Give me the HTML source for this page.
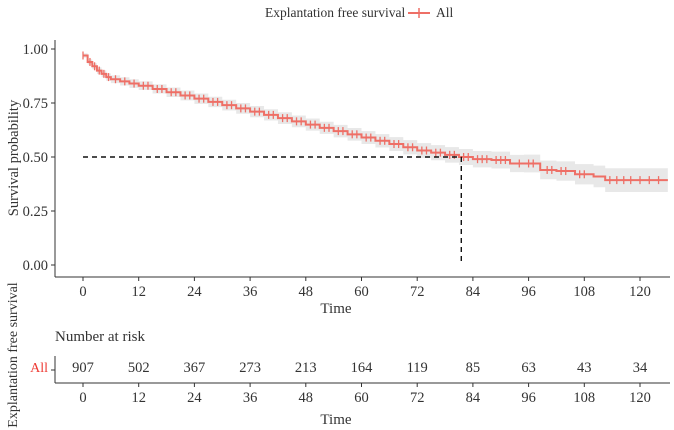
<!DOCTYPE html>
<html><head><meta charset="utf-8">
<style>
html,body{margin:0;padding:0;background:#fff;}
svg{display:block;font-family:"Liberation Serif",serif;}
</style></head>
<body>
<svg id="chart" width="674" height="430" viewBox="0 0 674 430" xmlns="http://www.w3.org/2000/svg">
  <g id="legend">
    <text x="265" y="17" font-size="13.5" fill="#333">Explantation free survival</text>
    <line x1="408" y1="13" x2="430" y2="13" stroke="#ee6f66" stroke-width="2"/>
    <line x1="419" y1="8" x2="419" y2="18" stroke="#ee6f66" stroke-width="1.5"/>
    <text x="436" y="17" font-size="13.5" fill="#333">All</text>
  </g>
  <g id="plot"></g>
  <text transform="translate(18,158) rotate(-90)" text-anchor="middle" font-size="14.5" fill="#333">Survival probability</text>
  <text x="336" y="313" text-anchor="middle" font-size="15" fill="#333">Time</text>
  <text x="55" y="341" font-size="15" fill="#333">Number at risk</text>
  <text x="48" y="372" text-anchor="end" font-size="14" fill="#ee3a33">All</text>
  <text transform="translate(17,355) rotate(-90)" text-anchor="middle" font-size="14" fill="#333">Explantation free survival</text>
  <text x="336" y="424" text-anchor="middle" font-size="15" fill="#333">Time</text>
</svg>
<script>
const times = [0,1,2,3,4,5,6,8,10,12,15,18,21,24,27,30,33,36,39,42,45,48,51,54,57,60,63,66,69,72,75,78,81,84,88,92,95,98.5,102,106,110,112.5,126];
const surv  = [0.97,0.94,0.92,0.90,0.885,0.87,0.86,0.85,0.84,0.83,0.815,0.80,0.785,0.77,0.755,0.74,0.725,0.71,0.695,0.68,0.665,0.65,0.635,0.62,0.605,0.59,0.575,0.56,0.545,0.53,0.52,0.51,0.50,0.49,0.486,0.47,0.47,0.44,0.435,0.42,0.41,0.393,0.393];
const ciHalf= [0.01,0.012,0.014,0.015,0.016,0.017,0.018,0.019,0.02,0.02,0.021,0.022,0.023,0.024,0.024,0.025,0.025,0.026,0.026,0.027,0.027,0.028,0.028,0.029,0.029,0.03,0.031,0.032,0.033,0.034,0.035,0.036,0.037,0.038,0.039,0.04,0.041,0.043,0.045,0.047,0.05,0.055,0.055];
const censorTimes = [0,1.5,2.5,3.5,4.5,5.5,7,9,11,13,14,16,17,19,20,22,23,25,26,28,29,31,32,34,35,37,38,40,41,43,44,46,47,49,50,52,53,55,56,58,59,61,62,64,65,67,68,70,71,73,74,76,77,79,80,82,83,85,86,87,89,90,91,94,96,97,100,101,103,104,107,108,113.5,115,116.5,118,120,122,124];
const xTicks = [0,12,24,36,48,60,72,84,96,108,120];
const yTicks = [0,0.25,0.5,0.75,1.0];
const yTickLabels = ["0.00","0.25","0.50","0.75","1.00"];
const riskCounts = [907,502,367,273,213,164,119,85,63,43,34];
const medianTime = 81.5;

const X = t => 83 + t*(557/120);
const Y = v => 265 - v*216;
const YR = 383;
const NS = "http://www.w3.org/2000/svg";
const g = document.getElementById('plot');
function mk(tag, attrs, parent){const e=document.createElementNS(NS,tag);for(const k in attrs)e.setAttribute(k,attrs[k]);(parent||g).appendChild(e);return e;}
function sAt(t){let v=surv[0];for(let i=0;i<times.length;i++){if(times[i]<=t)v=surv[i];}return v;}

let up=[],lo=[];
for(let i=0;i<times.length-1;i++){
  up.push([X(times[i]),Y(Math.min(1,surv[i]+ciHalf[i]))],[X(times[i+1]),Y(Math.min(1,surv[i]+ciHalf[i]))]);
  lo.push([X(times[i]),Y(surv[i]-ciHalf[i])],[X(times[i+1]),Y(surv[i]-ciHalf[i])]);
}
const band = mk('polygon',{points:up.concat(lo.reverse()).map(p=>p.join(',')).join(' '),fill:'#e8e8e8'});



let d='M'+X(times[0])+','+Y(surv[0]);
for(let i=1;i<times.length;i++){d+=' H'+X(times[i])+' V'+Y(surv[i]);}
const line = mk('path',{d:d,fill:'none',stroke:'#ee6f66','stroke-width':2});



censorTimes.forEach(t=>{
  const m = mk('line',{x1:X(t),x2:X(t),y1:Y(sAt(t))-4,y2:Y(sAt(t))+4,stroke:'#ee6f66','stroke-width':1.3});
  
  
});

const mh = mk('line',{x1:X(0),x2:X(medianTime),y1:Y(0.5),y2:Y(0.5),stroke:'#111','stroke-width':1.4,'stroke-dasharray':'5,4'});


const mv = mk('line',{x1:X(medianTime),x2:X(medianTime),y1:Y(0.5),y2:Y(0),stroke:'#111','stroke-width':1.4,'stroke-dasharray':'5,4'});



const ya = mk('line',{x1:55,x2:55,y1:40,y2:277,stroke:'#333','stroke-width':1});


const xa = mk('line',{x1:55,x2:670,y1:277,y2:277,stroke:'#333','stroke-width':1});


yTicks.forEach((v,i)=>{
  mk('line',{x1:51,x2:55,y1:Y(v),y2:Y(v),stroke:'#333'});
  const t = mk('text',{x:48,y:Y(v)+5,'text-anchor':'end','font-size':14.5,fill:'#333'});
  t.textContent = yTickLabels[i];
  
  
});
xTicks.forEach(v=>{
  mk('line',{x1:X(v),x2:X(v),y1:277,y2:281,stroke:'#333'});
  const t = mk('text',{x:X(v),y:296,'text-anchor':'middle','font-size':14.5,fill:'#333'});
  t.textContent = v;
  
  
});

const ra = mk('line',{x1:55,x2:55,y1:356,y2:383,stroke:'#333'});


mk('line',{x1:51,x2:55,y1:370,y2:370,stroke:'#333'});
const rx = mk('line',{x1:55,x2:670,y1:YR,y2:YR,stroke:'#333'});


xTicks.forEach((v,i)=>{
  mk('line',{x1:X(v),x2:X(v),y1:YR,y2:YR+4,stroke:'#333'});
  const t = mk('text',{x:X(v),y:402,'text-anchor':'middle','font-size':14.5,fill:'#333'});
  t.textContent = v;
  
  
  const r = mk('text',{x:X(v),y:372,'text-anchor':'middle','font-size':14.5,fill:'#333'});
  r.textContent = riskCounts[i];
  
  
});
</script>
</body></html>
